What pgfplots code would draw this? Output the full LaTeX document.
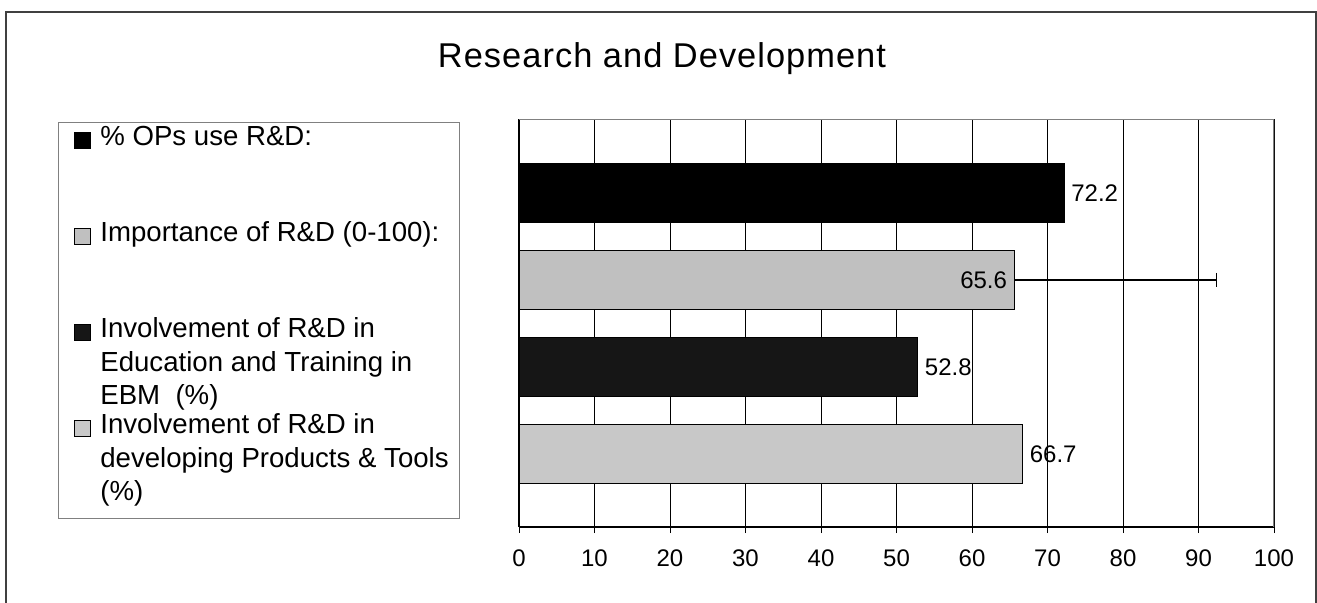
\documentclass[border=0pt]{standalone}
\usepackage{pgfplots}
\pgfplotsset{compat=1.18}
\usepackage{fontspec}
\setmainfont{Liberation Sans}

\definecolor{bargray}{HTML}{C0C0C0}
\definecolor{bardots}{HTML}{161616}
\definecolor{barlight}{HTML}{C8C8C8}
\definecolor{framegray}{HTML}{808080}

% legend text: top aligned, smashed so entries may overlap as in the original
\newcommand{\legtext}[1]{\hspace{4.5pt}\smash{\parbox[t]{200pt}{\raggedright\fontsize{13.8}{16.8}\selectfont #1}}}

\begin{document}
\begin{tikzpicture}
\useasboundingbox (0,0) rectangle (658.5pt,-301pt);
\draw[line width=0.6pt, black!75] (3pt,-302pt) -- (3pt,-6pt) -- (658pt,-6pt) -- (658pt,-302pt);
\node[font=\fontsize{17.2}{20}\selectfont\addfontfeature{LetterSpace=3}, anchor=base] at (331pt,-33.5pt) {Research and Development};
\draw[framegray, line width=0.5pt] (29pt,-61pt) rectangle (229.5pt,-259pt);

\begin{axis}[
  at={(259.5pt,-263.5pt)}, anchor=south west,
  scale only axis, width=377.5pt, height=204pt,
  xbar, bar width=0.678, bar shift=0pt,
  xmin=0, xmax=100, xtick={0,10,...,100},
  ymin=-0.84, ymax=3.85, ytick=\empty,
  axis x line*=bottom, axis y line*=left,
  x axis line style={-, line width=0.7pt},
  y axis line style={-, line width=0.7pt},
  xmajorgrids, grid style={black, line width=0.4pt},
  tick align=outside, major tick length=3pt,
  xtick style={black, line width=0.5pt},
  /pgf/number format/assume math mode=true,
  tick label style={font=\fontsize{12}{14}\selectfont},
  xticklabel style={yshift=-5pt},
  point meta=x,
  nodes near coords style={font=\fontsize{12}{14}\selectfont, black},
  legend image code/.code={\draw[#1, line width=0.5pt] (0pt,-1pt) rectangle (8pt,7pt);},
  legend style={at={(axis description cs:-0.5894,0.968)}, anchor=north west,
    draw=none, fill=none, inner sep=0pt, row sep=39.5pt,
    nodes={inner sep=0pt}},
  legend cell align=left,
]
\addplot[fill=black, draw=black, line width=0.6pt, nodes near coords]
  coordinates {(72.2,3)};
\addplot[fill=bargray, draw=black, line width=0.6pt, nodes near coords,
  every node near coord/.append style={anchor=east},
  error bars/.cd, x dir=plus, x explicit, error mark=|,
  error bar style={line width=0.6pt, black},
  error mark options={mark size=3.5pt, line width=0.8pt, black}]
  coordinates {(65.6,2) +- (26.8,0)};
\addplot[fill=bardots, draw=black, line width=0.6pt, nodes near coords]
  coordinates {(52.8,1)};
\addplot[fill=barlight, draw=black, line width=0.6pt, nodes near coords]
  coordinates {(66.7,0)};
\legend{\legtext{\% OPs use R\&D:},
  \legtext{Importance of R\&D (0-100):},
  \legtext{Involvement of R\&D in\\Education and Training in\\EBM\ \ (\%)},
  \legtext{Involvement of R\&D in\\developing Products \& Tools\\(\%)}}
\draw[framegray, line width=0.6pt] (rel axis cs:0,1) -- (rel axis cs:1,1) -- (rel axis cs:1,0);
\end{axis}
\end{tikzpicture}
\end{document}
